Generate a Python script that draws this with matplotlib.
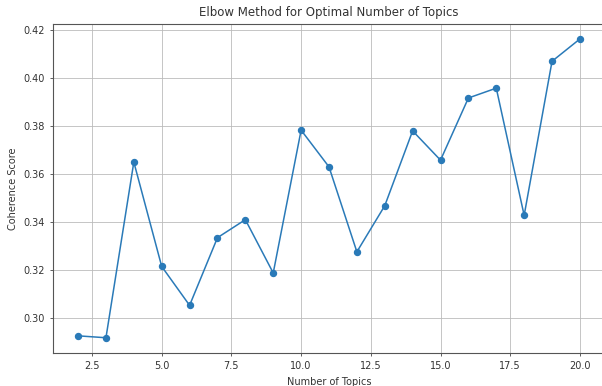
import matplotlib.pyplot as plt

# coherence score per number of topics
num_topics = list(range(2, 21))
coherence = [0.2926, 0.2918, 0.3650, 0.3215, 0.3053, 0.3335, 0.3410, 0.3188,
             0.3783, 0.3630, 0.3276, 0.3468, 0.3780, 0.3658, 0.3917, 0.3958,
             0.3428, 0.4070, 0.4163]

fig = plt.figure(figsize=(6.02, 3.86), dpi=100)
ax = fig.add_axes([0.088, 0.0863, 0.917, 0.8515])

ax.plot(num_topics, coherence, marker='o', markersize=4.3, linewidth=1.1, color='#2a7ab8')

txt = '#333333'
ax.set_title('Elbow Method for Optimal Number of Topics', fontsize=8.5, color=txt)
ax.set_xlabel('Number of Topics', fontsize=7, color=txt)
ax.set_ylabel('Coherence Score', fontsize=7, color=txt)
ax.tick_params(labelsize=7, width=0.6, length=2.5, colors='#444444', labelcolor=txt)
for s in ax.spines.values():
    s.set_linewidth(0.8)
    s.set_color('#555555')
ax.grid(True, linewidth=0.6, color='#bbbbbb')

fig.savefig('out.png', dpi=100)
